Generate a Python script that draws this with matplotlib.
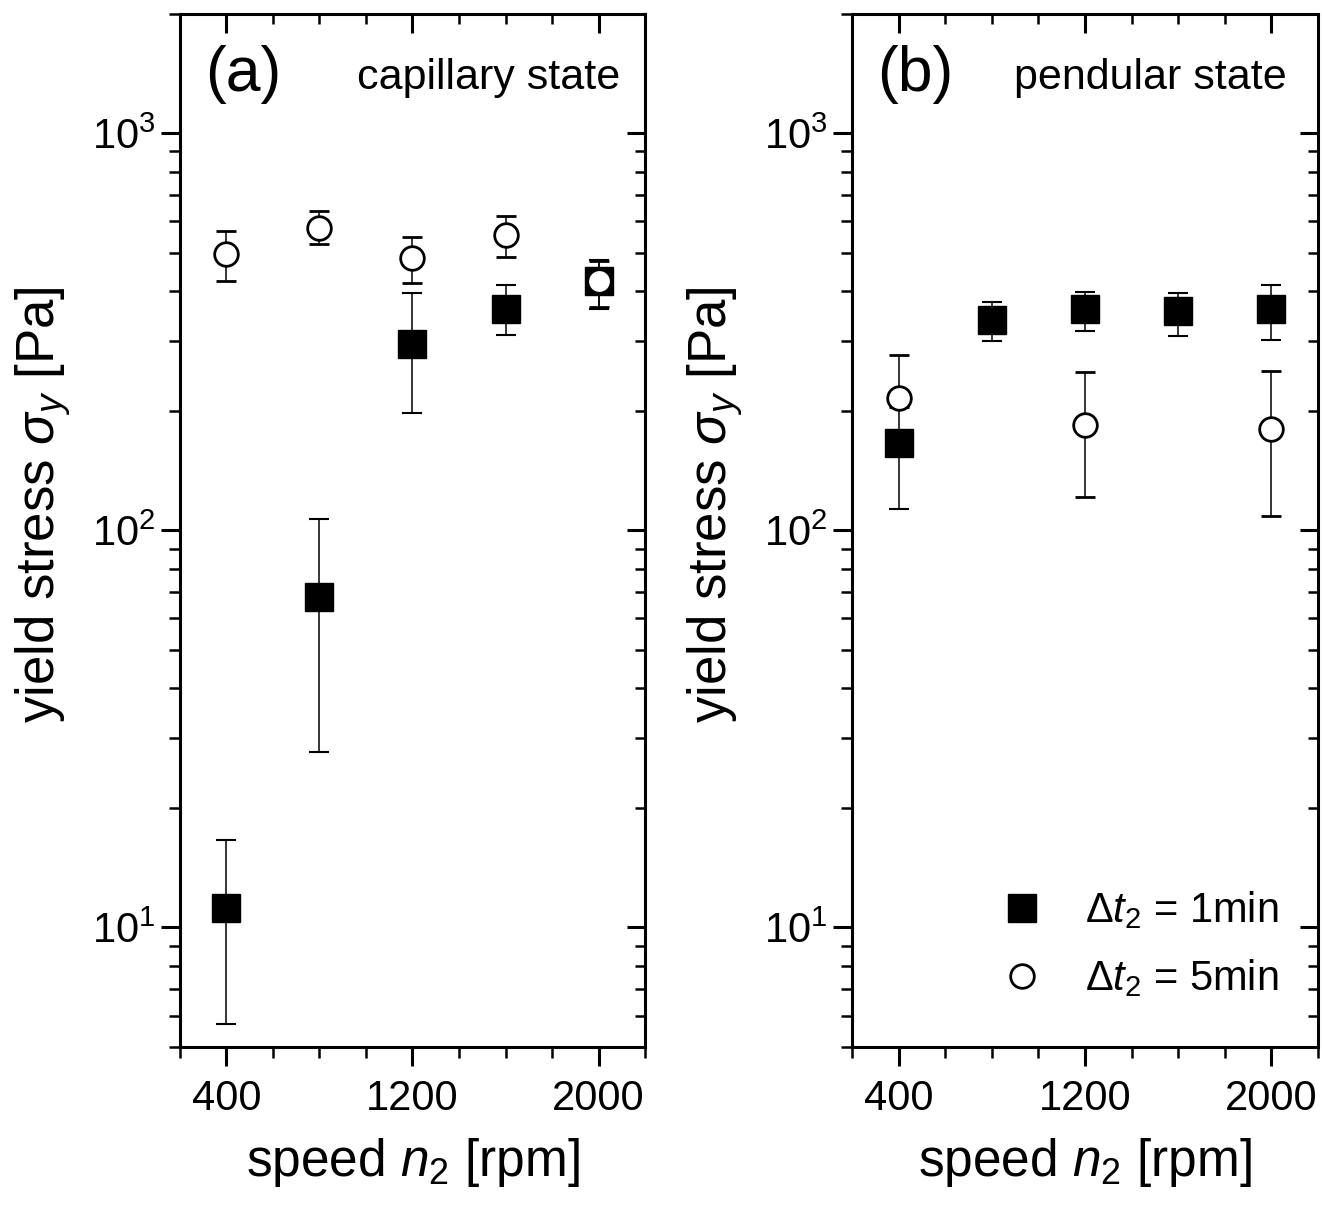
import numpy as np
import matplotlib
matplotlib.use('Agg')
import matplotlib.pyplot as plt
from matplotlib.ticker import MultipleLocator, LogLocator, NullFormatter
from matplotlib.lines import Line2D

plt.rcParams['font.family'] = ['Liberation Sans', 'DejaVu Sans']
plt.rcParams['mathtext.fontset'] = 'custom'
plt.rcParams['mathtext.rm'] = 'Liberation Sans'
plt.rcParams['mathtext.it'] = 'Liberation Sans:italic'

# speed n2 [rpm]
speed = [400, 800, 1200, 1600, 2000]

# (a) capillary state
a_1min = [11.2, 68, 295, 362, 424]
a_1min_lo = [5.7, 27.7, 197, 310, 360]
a_1min_hi = [16.6, 107, 395, 414, 481]
a_5min = [498, 579, 484, 553, 424]
a_5min_lo = [424, 525, 419, 489, 366]
a_5min_hi = [569, 636, 549, 618, 478]

# (b) pendular state
b_1min = [166, 338, 360, 356, 360]
b_1min_lo = [113, 299, 317, 309, 302]
b_1min_hi = [218, 377, 399, 395, 414]
b_speed_5 = [400, 1200, 2000]
b_5min = [215, 184, 180]
b_5min_lo = [205, 121, 109]
b_5min_hi = [276, 250, 252]

fig = plt.figure(figsize=(13.22, 12.17), dpi=100)
ax_a = fig.add_axes([0.136, 0.1397, 0.352, 0.849])
ax_b = fig.add_axes([0.6445, 0.1397, 0.3525, 0.849])


def err(y, lo, hi):
    y = np.array(y)
    return [y - np.array(lo), np.array(hi) - y]


def squares(ax, x, y, lo, hi):
    ax.errorbar(x, y, yerr=err(y, lo, hi), fmt='s', color='black', ms=20,
                mfc='black', mec='black', ecolor='black', elinewidth=1.1,
                capsize=7.5, capthick=1.5)


def circles(ax, x, y, lo, hi):
    ax.errorbar(x, y, yerr=err(y, lo, hi), fmt='o', ms=17, mfc='white',
                mec='black', mew=2, ecolor='black', elinewidth=1.1,
                capsize=7.5, capthick=1.5)


squares(ax_a, speed, a_1min, a_1min_lo, a_1min_hi)
circles(ax_a, speed, a_5min, a_5min_lo, a_5min_hi)

circles(ax_b, b_speed_5, b_5min, b_5min_lo, b_5min_hi)
squares(ax_b, speed, b_1min, b_1min_lo, b_1min_hi)

for ax in (ax_a, ax_b):
    ax.set_xlim(200, 2200)
    ax.set_yscale('log')
    ax.set_ylim(5, 2000)
    ax.set_xticks([400, 1200, 2000])
    ax.xaxis.set_minor_locator(MultipleLocator(200))
    ax.yaxis.set_minor_locator(LogLocator(subs=np.arange(2, 10)))
    ax.yaxis.set_minor_formatter(NullFormatter())
    ax.tick_params(which='both', direction='out', labelsize=30, width=2.2)
    ax.tick_params(which='major', length=14)
    ax.tick_params(which='minor', length=8, width=1.8)
    ax.tick_params(axis='x', pad=9)
    for s in ax.spines.values():
        s.set_linewidth(2.2)
    ax.set_xlabel(r'speed $n_2$ [rpm]', fontsize=37, labelpad=12)
    ax.set_ylabel(r'yield stress $\sigma_y$ [Pa]', fontsize=38)
    ax.yaxis.set_label_coords(-0.23, 0.525)

    # mirrored top and right axes with inward ticks
    axr = ax.twinx()
    axr.set_yscale('log')
    axr.set_ylim(5, 2000)
    axr.yaxis.set_minor_locator(LogLocator(subs=np.arange(2, 10)))
    axr.tick_params(which='both', direction='in', labelright=False, width=2.2)
    axr.tick_params(which='major', length=13)
    axr.tick_params(which='minor', length=7, width=1.8)
    axt = ax.twiny()
    axt.set_xlim(200, 2200)
    axt.set_xticks([400, 1200, 2000])
    axt.xaxis.set_minor_locator(MultipleLocator(200))
    axt.tick_params(which='both', direction='in', labeltop=False, width=2.2)
    axt.tick_params(which='major', length=14)
    axt.tick_params(which='minor', length=7, width=1.8)

ax_a.text(0.054, 0.941, '(a)', transform=ax_a.transAxes, fontsize=45,
          ha='left', va='center')
ax_a.text(0.946, 0.938, 'capillary state', transform=ax_a.transAxes,
          fontsize=31, ha='right', va='center')
ax_b.text(0.054, 0.941, '(b)', transform=ax_b.transAxes, fontsize=45,
          ha='left', va='center')
ax_b.text(0.933, 0.938, 'pendular state', transform=ax_b.transAxes,
          fontsize=31, ha='right', va='center')

handles = [
    Line2D([], [], ls='none', marker='s', ms=20, color='black'),
    Line2D([], [], ls='none', marker='o', ms=17, mfc='white', mec='black', mew=2),
]
ax_b.legend(handles, [r'$\Delta t_2$ = 1min', r'$\Delta t_2$ = 5min'],
            loc='lower right', bbox_to_anchor=(0.995, 0.01), frameon=False,
            fontsize=30, handletextpad=0.5, labelspacing=0.62)

fig.savefig('out.png', dpi=100)
